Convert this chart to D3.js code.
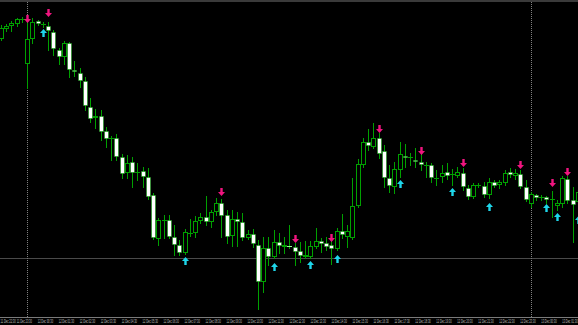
<!DOCTYPE html>
<html>
<head>
<meta charset="utf-8">
<script src="https://cdn.jsdelivr.net/npm/d3@7"></script>
<style>
html,body{margin:0;padding:0;background:#000;overflow:hidden}
</style>
</head>
<body>
<div id="chart"></div>
<script>
// M15 bars
var opens = [
  1.1261,1.1271,1.1274,1.1276,1.1281,1.1236,1.1261,1.1279,1.1276,1.1274,
  1.1268,1.1250,1.1243,1.1257,1.1230,1.1227,1.1219,1.1193,1.1182,1.1184,
  1.1169,1.1162,1.1162,1.1143,1.1127,1.1138,1.1128,1.1129,1.1123,1.1105,
  1.1061,1.1080,1.1080,1.1063,1.1055,1.1047,1.1067,1.1067,1.1079,1.1083,
  1.1078,1.1088,1.1097,1.1085,1.1064,1.1081,1.1078,1.1062,1.1066,1.1055,
  1.1018,1.1052,1.1043,1.1058,1.1053,1.1054,1.1053,1.1049,1.1043,1.1043,
  1.1053,1.1059,1.1057,1.1055,1.1051,1.1069,1.1063,1.1062,1.1094,1.1135,
  1.1158,1.1153,1.1162,1.1149,1.1122,1.1113,1.1130,1.1144,1.1143,1.1140,
  1.1138,1.1135,1.1135,1.1122,1.1123,1.1128,1.1126,1.1124,1.1127,1.1112,
  1.1103,1.1115,1.1114,1.1105,1.1118,1.1115,1.1117,1.1128,1.1124,1.1126,
  1.1113,1.1096,1.1105,1.1103,1.1103,1.1101,1.1094,1.1096,1.1121,1.1100,1.1098]
var highs = [
  1.1275,1.1276,1.1279,1.1282,1.1283,1.1282,1.1282,1.1280,1.1278,1.1278,
  1.1270,1.1252,1.1259,1.1258,1.1239,1.1232,1.1223,1.1202,1.1191,1.1190,
  1.1173,1.1164,1.1166,1.1146,1.1145,1.1143,1.1137,1.1133,1.1132,1.1107,
  1.1082,1.1085,1.1085,1.1075,1.1060,1.1071,1.1081,1.1084,1.1087,1.1104,
  1.1090,1.1102,1.1101,1.1090,1.1090,1.1088,1.1087,1.1070,1.1071,1.1060,
  1.1063,1.1063,1.1070,1.1067,1.1063,1.1075,1.1057,1.1058,1.1059,1.1059,
  1.1072,1.1062,1.1063,1.1060,1.1072,1.1086,1.1075,1.1122,1.1141,1.1162,
  1.1171,1.1177,1.1167,1.1155,1.1135,1.1138,1.1158,1.1156,1.1147,1.1152,
  1.1150,1.1138,1.1137,1.1130,1.1135,1.1137,1.1131,1.1133,1.1132,1.1115,
  1.1117,1.1117,1.1118,1.1122,1.1120,1.1120,1.1130,1.1132,1.1131,1.1130,
  1.1120,1.1108,1.1106,1.1105,1.1104,1.1109,1.1100,1.1124,1.1124,1.1113,1.1115]
var lows = [
  1.1260,1.1269,1.1269,1.1274,1.1278,1.1212,1.1257,1.1275,1.1273,1.1250,
  1.1245,1.1236,1.1236,1.1223,1.1224,1.1213,1.1190,1.1178,1.1172,1.1160,
  1.1153,1.1140,1.1140,1.1122,1.1122,1.1113,1.1120,1.1113,1.1101,1.1061,
  1.1055,1.1062,1.1062,1.1045,1.1045,1.1046,1.1064,1.1063,1.1077,1.1075,
  1.1073,1.1085,1.1063,1.1057,1.1054,1.1054,1.1060,1.1061,1.1053,1.0991,
  1.1008,1.1035,1.1042,1.1047,1.1047,1.1052,1.1035,1.1038,1.1042,1.1042,
  1.1052,1.1048,1.1050,1.1036,1.1050,1.1062,1.1053,1.1061,1.1093,1.1133,
  1.1150,1.1152,1.1142,1.1113,1.1108,1.1107,1.1123,1.1133,1.1135,1.1133,
  1.1130,1.1123,1.1118,1.1115,1.1118,1.1121,1.1115,1.1123,1.1110,1.1101,
  1.1102,1.1113,1.1103,1.1102,1.1113,1.1112,1.1115,1.1123,1.1121,1.1112,
  1.1099,1.1093,1.1100,1.1100,1.1097,1.1083,1.1090,1.1093,1.1097,1.1058,1.1088]
var closes = [
  1.1272,1.1274,1.1277,1.1281,1.1281,1.1261,1.1278,1.1276,1.1276,1.1269,
  1.1251,1.1243,1.1257,1.1230,1.1228,1.1219,1.1194,1.1181,1.1184,1.1168,
  1.1161,1.1162,1.1143,1.1126,1.1137,1.1127,1.1128,1.1123,1.1103,1.1062,
  1.1080,1.1080,1.1063,1.1055,1.1047,1.1068,1.1067,1.1079,1.1083,1.1078,
  1.1088,1.1097,1.1084,1.1063,1.1081,1.1078,1.1062,1.1066,1.1056,1.1018,
  1.1052,1.1043,1.1058,1.1054,1.1055,1.1053,1.1048,1.1044,1.1045,1.1054,
  1.1059,1.1056,1.1053,1.1051,1.1069,1.1065,1.1069,1.1094,1.1136,1.1158,
  1.1154,1.1162,1.1146,1.1122,1.1114,1.1131,1.1146,1.1142,1.1143,1.1138,
  1.1135,1.1135,1.1122,1.1122,1.1127,1.1124,1.1126,1.1128,1.1113,1.1103,
  1.1115,1.1115,1.1105,1.1118,1.1114,1.1118,1.1127,1.1125,1.1127,1.1113,
  1.1100,1.1106,1.1102,1.1103,1.1100,1.1101,1.1097,1.1122,1.1099,1.1095,1.1108]

// signal arrows: bar index + price of the arrow tip
var sellBars   = [5, 9, 42, 56, 63, 72, 80, 88, 99, 105, 108]
var sellPrices = [1.1277,1.1283,1.1104,1.1057,1.1058,1.1167,1.1145,1.1133,1.1131,1.1113,1.1124]
var buyBars    = [8, 35, 52, 59, 64, 76, 86, 93, 104, 106, 110]
var buyPrices  = [1.1271,1.1043,1.1037,1.1039,1.1045,1.1120,1.1112,1.1097,1.1096,1.1087,1.1084]

var daySeparators = [5, 101]
var levelPrice = 1.1042

var labelBars = [-1,3,7,11,15,19,23,27,31,35,39,43,47,51,55,59,63,67,71,75,79,83,87,91,95,99,103,107]
var tickLabels = [
  '11 Dec 22:30','11 Dec 23:30','12 Dec 00:30','12 Dec 01:30','12 Dec 02:30','12 Dec 03:30',
  '12 Dec 04:30','12 Dec 05:30','12 Dec 06:30','12 Dec 07:30','12 Dec 08:30','12 Dec 09:30',
  '12 Dec 10:30','12 Dec 11:30','12 Dec 12:30','12 Dec 13:30','12 Dec 14:30','12 Dec 15:30',
  '12 Dec 16:30','12 Dec 17:30','12 Dec 18:30','12 Dec 19:30','12 Dec 20:30','12 Dec 21:30',
  '12 Dec 22:30','12 Dec 23:30','13 Dec 00:30','13 Dec 01:30']

var width = 578, height = 325, axisY = 317
var green = '#00a000'

var svg = d3.select('#chart')
  .append('svg')
  .attr('width',width)
  .attr('height',height)
  .style('display','block')
  .style('background','#000')

var x = d3.scaleLinear().domain([0,110]).range([1.5,578.45])
var y = d3.scaleLinear().domain([1.0982,1.1300]).range([318,0])
var px = i => Math.floor(x(i))
var py = p => Math.round(y(p))

var bars = d3.range(opens.length).map(i => ({
  i:i, o:opens[i], h:highs[i], l:lows[i], c:closes[i]
}))

// top strip
svg.append('rect').attr('x',0).attr('y',0).attr('width',width).attr('height',2).attr('fill','#3a3a3a')

// level line + day separators
svg.append('line')
  .attr('x1',0).attr('x2',width)
  .attr('y1',py(levelPrice)+0.5).attr('y2',py(levelPrice)+0.5)
  .attr('stroke','#4a4a4a')

svg.selectAll('.sep').data(daySeparators).enter().append('line')
  .attr('class','sep')
  .attr('x1',d=>px(d)+0.5).attr('x2',d=>px(d)+0.5)
  .attr('y1',2).attr('y2',axisY)
  .attr('stroke','#808080')
  .attr('stroke-dasharray','1,1')

// candles
var g = svg.append('g')
g.selectAll('.wick').data(bars).enter().append('line')
  .attr('class','wick')
  .attr('x1',d=>px(d.i)+0.5).attr('x2',d=>px(d.i)+0.5)
  .attr('y1',d=>py(d.h)).attr('y2',d=>py(d.l)+1)
  .attr('stroke',green)

var bodies = bars.filter(d => Math.abs(py(d.o)-py(d.c)) >= 2)
var dojis = bars.filter(d => Math.abs(py(d.o)-py(d.c)) < 2)

g.selectAll('.body').data(bodies).enter().append('rect')
  .attr('class','body')
  .attr('x',d=>px(d.i)-1.5)
  .attr('y',d=>Math.min(py(d.o),py(d.c))+0.5)
  .attr('width',4)
  .attr('height',d=>Math.abs(py(d.o)-py(d.c))-1)
  .attr('fill',d=>d.c>d.o?'#000':'#fff')
  .attr('stroke',green)
  .attr('stroke-opacity',d=>d.c>d.o?1:0.5)

g.selectAll('.doji').data(dojis).enter().append('line')
  .attr('class','doji')
  .attr('x1',d=>px(d.i)-2).attr('x2',d=>px(d.i)+3)
  .attr('y1',d=>Math.min(py(d.o),py(d.c))+0.5)
  .attr('y2',d=>Math.min(py(d.o),py(d.c))+0.5)
  .attr('stroke',d=>d.c<d.o?'#9f9':green)

// arrows
var upArrow = (cx,ty) => `M${cx},${ty}L${cx+3.5},${ty+4}L${cx+1.2},${ty+4}L${cx+1.2},${ty+8}L${cx-1.2},${ty+8}L${cx-1.2},${ty+4}L${cx-3.5},${ty+4}Z`
var downArrow = (cx,by) => `M${cx},${by}L${cx+3.5},${by-4}L${cx+1.2},${by-4}L${cx+1.2},${by-8}L${cx-1.2},${by-8}L${cx-1.2},${by-4}L${cx-3.5},${by-4}Z`

svg.selectAll('.sell').data(sellBars).enter().append('path')
  .attr('class','sell')
  .attr('d',(d,k)=>downArrow(px(d)+0.5,py(sellPrices[k])))
  .attr('fill','#f0157f')

svg.selectAll('.buy').data(buyBars).enter().append('path')
  .attr('class','buy')
  .attr('d',(d,k)=>upArrow(px(d)+0.5,py(buyPrices[k])))
  .attr('fill','#1ed6ea')

// time axis
svg.append('line')
  .attr('x1',0).attr('x2',width)
  .attr('y1',axisY+0.5).attr('y2',axisY+0.5)
  .attr('stroke','#7a7a7a')

var axis = d3.axisBottom(x)
  .tickValues(labelBars)
  .tickFormat((d,k)=>tickLabels[k])
  .tickSize(0)
  .tickPadding(0)

var gAxis = svg.append('g')
  .attr('transform',`translate(0,${axisY})`)
  .attr('font-family','DejaVu Sans')
  .attr('font-size',8)
  .call(axis)
gAxis.select('.domain').remove()
// labels are squeezed, like the tiny MT4 time scale; first one kept inside the frame
gAxis.selectAll('text')
  .attr('text-anchor','start')
  .attr('dy',null)
  .attr('y',0)
  .attr('fill','#bdbdbd')
  .attr('transform',d=>`translate(${Math.max(0,x(d)-1)-x(d)},6.3) scale(0.26,0.5)`)
</script>
</body>
</html>
